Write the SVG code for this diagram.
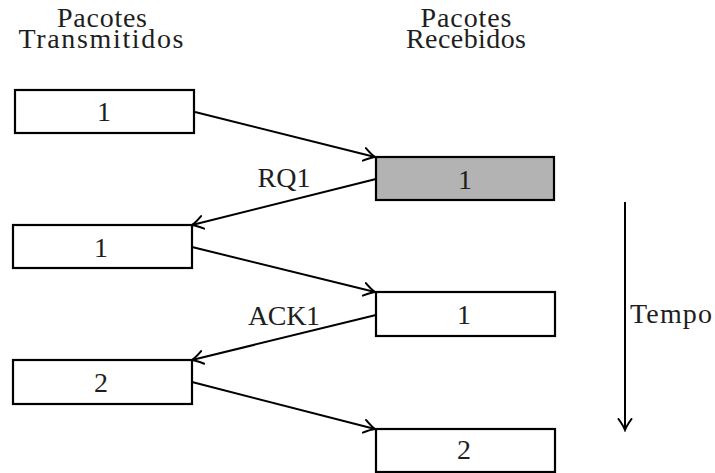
<svg xmlns="http://www.w3.org/2000/svg" width="715" height="473" viewBox="0 0 715 473">
  <style>
    text { font-family: "Liberation Serif", "Times New Roman", serif; font-size: 28px; fill: #1e1e1e; }
    .mid { text-anchor: middle; }
    .box { fill: #ffffff; stroke: #000000; stroke-width: 2.2; }
    .lost { fill: #b3b3b3; }
    .link { fill: none; stroke: #000000; stroke-width: 2; marker-end: url(#head); }
  </style>
  <defs>
    <marker id="head" viewBox="-12 -8 14 16" markerWidth="14" markerHeight="16" refX="0" refY="0" orient="auto" markerUnits="userSpaceOnUse">
      <path d="M-11,-6.5 Q-4,-1.5 0,0 Q-4,1.5 -11,6.5" fill="none" stroke="#000000" stroke-width="2" stroke-linecap="round"/>
    </marker>
  </defs>

  <!-- column headings -->
  <g id="heading-sender">
    <text class="mid" x="102" y="27" textLength="90">Pacotes</text>
    <text class="mid" x="101" y="48" textLength="165">Transmitidos</text>
  </g>
  <g id="heading-receiver">
    <text class="mid" x="466" y="27" textLength="91">Pacotes</text>
    <text class="mid" x="466" y="48" textLength="120">Recebidos</text>
  </g>

  <!-- sender side -->
  <g id="tx-1a">
    <rect class="box" x="15" y="90" width="179" height="43"/>
    <text class="mid" x="104" y="121">1</text>
  </g>
  <g id="tx-1b">
    <rect class="box" x="13" y="225" width="179" height="43"/>
    <text class="mid" x="101" y="257">1</text>
  </g>
  <g id="tx-2">
    <rect class="box" x="13" y="360" width="179" height="44"/>
    <text class="mid" x="101" y="392">2</text>
  </g>

  <!-- receiver side -->
  <g id="rx-1a">
    <rect class="box lost" x="376" y="157" width="178" height="43"/>
    <text class="mid" x="465" y="189">1</text>
  </g>
  <g id="rx-1b">
    <rect class="box" x="376" y="292" width="179" height="44"/>
    <text class="mid" x="464" y="324">1</text>
  </g>
  <g id="rx-2">
    <rect class="box" x="376" y="429" width="179" height="43"/>
    <text class="mid" x="464" y="459">2</text>
  </g>

  <!-- transmissions and replies -->
  <g id="connectors">
    <line class="link" x1="195" y1="112" x2="375" y2="157"/>
    <line class="link" x1="376" y1="179" x2="192" y2="225"/>
    <line class="link" x1="192" y1="247" x2="375" y2="292"/>
    <line class="link" x1="376" y1="315" x2="192" y2="360"/>
    <line class="link" x1="192" y1="382" x2="375" y2="429"/>
    <line class="link" x1="625" y1="202" x2="625" y2="430"/>
  </g>

  <g id="labels">
    <text class="mid" x="284" y="187" textLength="53">RQ1</text>
    <text class="mid" x="284" y="325" textLength="72">ACK1</text>
    <text x="630" y="323" textLength="82">Tempo</text>
  </g>
</svg>
